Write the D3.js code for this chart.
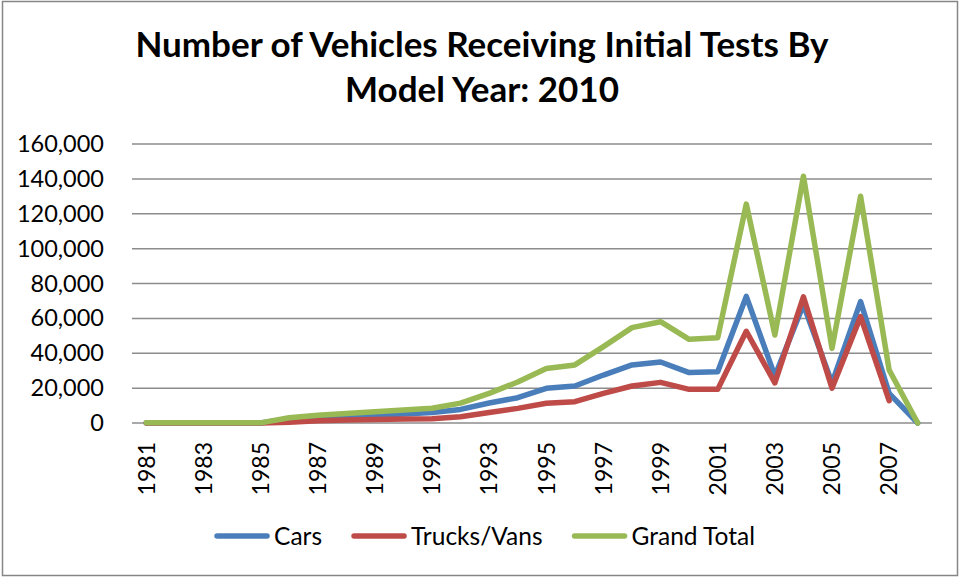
<!DOCTYPE html>
<html>
<head>
<meta charset="utf-8">
<script src="https://cdn.jsdelivr.net/npm/d3@7"></script>
<style>
  html, body { margin: 0; padding: 0; background: #fff; }
  svg { display: block; }
  text { font-family: Lato, "Open Sans", sans-serif; fill: #000; }
</style>
</head>
<body>
<svg id="chart" width="961" height="577"></svg>
<script>
// ---- data ----
const years = d3.range(1981, 2009).map(String);
const cars = [50, 50, 50, 50, 50, 2500, 3200, 3800, 4500, 5200, 6000, 7800, 11500, 14500, 19900, 21200, 27500, 33300, 35000, 28900, 29400, 72600, 27000, 67800, 23000, 69600, 17000, 0];
const trucks = [30, 30, 30, 30, 30, 500, 1300, 1700, 2000, 2300, 2500, 3600, 6000, 8400, 11300, 12200, 17000, 21200, 23300, 19300, 19300, 52600, 23000, 72400, 20000, 61000, 12800, null];
const grandTotal = [80, 80, 80, 80, 80, 3000, 4500, 5500, 6500, 7500, 8500, 11400, 17000, 23500, 31300, 33300, 43800, 54700, 58100, 48000, 48900, 125500, 50500, 141500, 42800, 130000, 30400, 0];
const yTicks = [0, 20000, 40000, 60000, 80000, 100000, 120000, 140000, 160000];
const xTickLabels = years.filter((d, i) => i % 2 === 0);
const seriesNames = ["Cars", "Trucks/Vans", "Grand Total"];
const seriesColors = ["#4A7EBB", "#BE4B48", "#98B954"];
const titleLines = ["Number of Vehicles Receiving Initial Tests By", "Model Year: 2010"];

const series = [cars, trucks, grandTotal].map((vals, i) => ({
  name: seriesNames[i], color: seriesColors[i],
  values: vals.map((v, j) => ({ year: years[j], value: v }))
}));

// ---- layout ----
const svg = d3.select("#chart");
const W = 961, H = 577;
const plot = { left: 132, right: 932, top: 144, bottom: 423 };

svg.append("rect")
  .attr("x", 2.5).attr("y", 1.5).attr("width", W - 6).attr("height", H - 3)
  .attr("fill", "#fff").attr("stroke", "#868686").attr("stroke-width", 1.5);

const x = d3.scaleBand().domain(years).range([plot.left, plot.right]);
const xc = d => x(d) + x.bandwidth() / 2;
const y = d3.scaleLinear().domain([0, 160000]).range([plot.bottom, plot.top]);

// title
svg.append("text")
  .attr("text-anchor", "middle").attr("font-weight", "bold").attr("font-size", 35)
  .selectAll("tspan").data(titleLines).join("tspan")
  .attr("x", 482).attr("y", (d, i) => 57 + i * 45).text(d => d);

// gridlines
svg.append("g").selectAll("line").data(yTicks).join("line")
  .attr("x1", plot.left).attr("x2", plot.right)
  .attr("y1", d => y(d)).attr("y2", d => y(d))
  .attr("stroke", "#8c8c8c").attr("stroke-width", 1.5);

// y axis
const yAxis = d3.axisLeft(y).tickValues(yTicks).tickFormat(d3.format(",")).tickSize(0).tickPadding(0);
const gy = svg.append("g").attr("transform", `translate(104,0)`).call(yAxis);
gy.select(".domain").remove();
gy.selectAll("text").attr("font-size", 23.5).attr("font-family", "Lato, sans-serif").attr("fill", "#000");

// x axis
const xAxis = d3.axisBottom(x).tickValues(xTickLabels).tickSize(0).tickPadding(0);
const gx = svg.append("g").attr("transform", `translate(0,${plot.bottom})`).call(xAxis);
gx.select(".domain").remove();
gx.selectAll("text")
  .attr("font-size", 23).attr("font-family", "Lato, sans-serif").attr("fill", "#000")
  .attr("text-anchor", "end")
  .attr("transform", "rotate(-90)")
  .attr("x", -19).attr("y", 0).attr("dy", "0.36em");

// lines
const line = d3.line()
  .defined(d => d.value !== null)
  .x(d => xc(d.year)).y(d => y(d.value));

svg.append("g").selectAll("path").data(series).join("path")
  .attr("d", d => line(d.values))
  .attr("fill", "none").attr("stroke", d => d.color)
  .attr("stroke-width", 5.5).attr("stroke-linejoin", "round").attr("stroke-linecap", "round");

// legend
const lg = svg.append("g");
const items = lg.selectAll("g").data(series).join("g");
items.append("line").attr("x1", 0).attr("x2", 50).attr("y1", 0).attr("y2", 0)
  .attr("stroke", d => d.color).attr("stroke-width", 5.5).attr("stroke-linecap", "round");
items.append("text").attr("x", 57).attr("dy", "0.36em").attr("font-size", 24.5).text(d => d.name);
const widths = [];
items.each(function () {
  const tw = d3.select(this).select("text").node().getComputedTextLength();
  widths.push(57 + tw);
});
const gap = 32;
const total = d3.sum(widths) + gap * (widths.length - 1);
let start = 486 - total / 2;
items.attr("transform", (d, i) => {
  const t = `translate(${start},536)`;
  start += widths[i] + gap;
  return t;
});
</script>
</body>
</html>
